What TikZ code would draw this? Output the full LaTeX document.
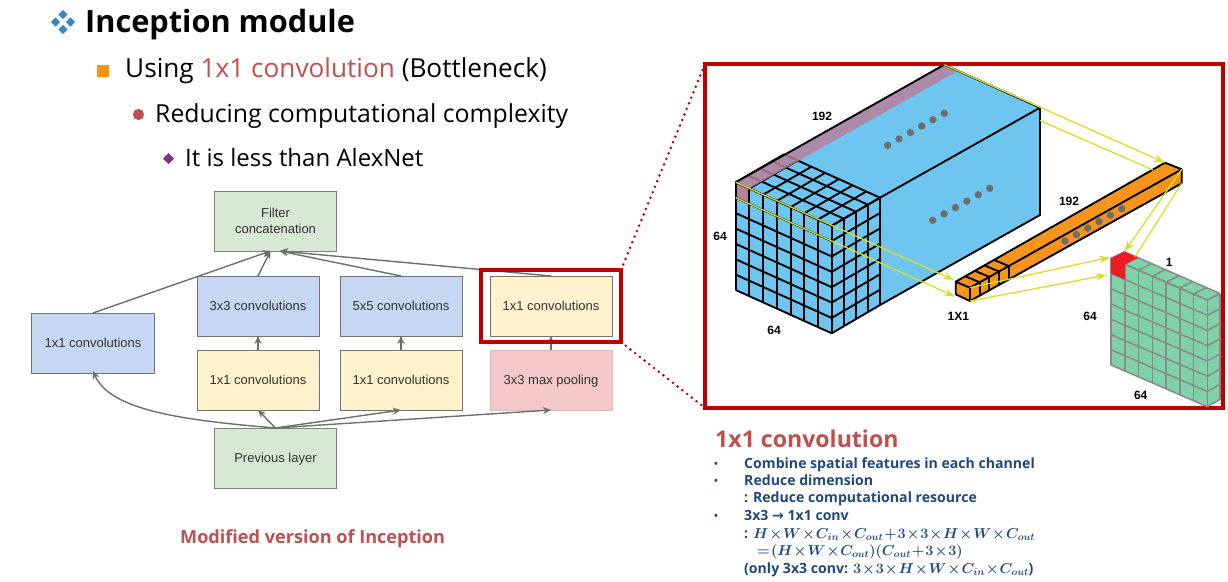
\documentclass[tikz,border=0pt]{standalone}
\usepackage[no-math]{fontspec}
\setmainfont{Open Sans}
\newfontfamily\labelfont{Liberation Sans}
\newfontfamily\arrowfont{DejaVu Sans}
\usetikzlibrary{calc,arrows.meta}
\definecolor{cubeblue}{HTML}{6EC6F0}
\definecolor{cubepink}{HTML}{B9809B}
\definecolor{barorange}{HTML}{F7941D}
\definecolor{wallgreen}{HTML}{7FD1A8}
\definecolor{wallgrey}{HTML}{8A8A8A}
\definecolor{wallred}{HTML}{ED1C24}
\definecolor{rayyellow}{HTML}{D4E02C}
\definecolor{framered}{HTML}{C00000}
\definecolor{slidered}{HTML}{C0504D}
\definecolor{slideblue}{HTML}{1F497D}
\definecolor{flowgrey}{HTML}{6E6E6E}
\definecolor{flowblue}{HTML}{C6D7F3}
\definecolor{flowcream}{HTML}{FFF2CC}
\definecolor{flowgreen}{HTML}{D7E8D3}
\definecolor{flowpink}{HTML}{F4C7C8}
%% griglia su una faccia: angoli in senso orario, colonne, righe
\newcommand{\facegrid}[6]{%
	\foreach \i in {0,...,#5} \draw ($(#1)!\i/#5!(#2)$) -- ($(#4)!\i/#5!(#3)$);
	\foreach \j in {0,...,#6} \draw ($(#1)!\j/#6!(#4)$) -- ($(#2)!\j/#6!(#3)$);
}
%% fila di sei punti grigi
\newcommand{\dotrow}[2]{%
	\foreach \k in {0,...,5} \fill[flowgrey] ($(#1)!\k/5!(#2)$) circle (3.7);
}
%% formula in neretto, spazi stretti
\newcommand{\boldformula}[1]{{\medmuskip=1mu\thickmuskip=1.5mu\boldmath$#1$}}
%% testo senza discendenti nel calcolo del centro
\newcommand{\nodepth}[1]{\raisebox{0pt}[\height][0pt]{#1}}
\begin{document}
\begin{tikzpicture}[
		x=1pt, y=-1pt, >=stealth,
		flowbox/.style={draw=#1, line width=1pt, outer sep=0pt, minimum width=122pt, minimum height=60pt, inner sep=0pt, align=center, font=\labelfont\fontsize{13}{15.5}\selectfont, text=black!80},
		bluebox/.style={flowbox=black!55, fill=flowblue},
		creambox/.style={flowbox=black!55, fill=flowcream},
		greenbox/.style={flowbox=black!50, fill=flowgreen},
		flow/.style={-{Stealth[length=8pt,width=7pt]}, flowgrey, line width=1.4pt},
		ray/.style={rayyellow, line width=1.3pt},
		rayarrow/.style={ray, -{Stealth[length=11pt,width=7.5pt]}},
		dims/.style={font=\labelfont\bfseries\fontsize{12}{14}\selectfont, inner sep=0pt},
		note/.style={anchor=base west, inner sep=0pt, text=slideblue, font=\bfseries\fontsize{14.1}{16}\selectfont},
		headline/.style={anchor=base west, inner sep=0pt, font=\fontsize{26.2}{30}\selectfont},
		zoomframe/.style={draw=framered, line width=3.2pt, outer sep=0pt, inner sep=0pt, anchor=north west},
		zoomdots/.style={framered, line width=2.8pt, line cap=round, dash pattern=on 0pt off 6pt}
	]
	\useasboundingbox (0,0) rectangle (1228,581);

	%% titoli
	\foreach \p in {(63,14.5),(55.5,22),(70.5,22),(63,29.5)}
		\fill[blue!45!cyan!60!gray] \p ++(-4.6,0) -- ++(4.6,-4.6) -- ++(4.6,4.6) -- ++(-4.6,4.6) -- cycle;
	\node[headline, font=\bfseries\fontsize{30.7}{36}\selectfont] (title) at (85,32) {Inception module};
	\fill[orange!85!yellow] (96.5,65) rectangle (109,77);
	\node[headline] (using) at (125,77) {Using \textcolor{slidered}{1x1 convolution} (Bottleneck)};
	\fill[slidered] (138.5,114.5) circle (5.6);
	\node[headline, font=\fontsize{24.8}{30}\selectfont] (reducing) at (155,122) {Reducing computational complexity};
	\fill[violet!60!gray] (168.5,153) -- (174,158.5) -- (168.5,164) -- (163,158.5) -- cycle;
	\node[headline, font=\fontsize{24}{28}\selectfont] (less) at (185,166) {It is less than AlexNet};

	%% modulo inception
	\node[greenbox, anchor=north west] (filter) at (214.5,191) {Filter\\[1pt]concatenation};
	\node[bluebox, anchor=north west] (three) at (197,276) {3x3 convolutions};
	\node[bluebox, anchor=north west] (five) at (340,276) {5x5 convolutions};
	\node[creambox, anchor=north west] (onepool) at (490,276) {1x1 convolutions};
	\node[creambox, anchor=north west] (onethree) at (197,350) {1x1 convolutions};
	\node[creambox, anchor=north west] (onefive) at (340,350) {1x1 convolutions};
	\node[flowbox=flowpink!80!gray, fill=flowpink, anchor=north west] (pool) at (490,350) {\nodepth{3x3 max pooling}};
	\node[bluebox, anchor=north west, minimum width=123pt] (oneleft) at (31.5,313) {1x1 convolutions};
	\node[greenbox, anchor=north west] (previous) at (214.5,428) {\nodepth{Previous layer}};

	\draw[flow] (oneleft.north) -- ([xshift=-5pt]filter.south);
	\draw[flow] (three.north) -- ([xshift=-5pt]filter.south);
	\draw[flow] (five.north) -- ([xshift=4pt]filter.south);
	\draw[flow] (onepool.north) -- ([xshift=4pt]filter.south);
	\draw[flow] (onethree.north) -- (three.south);
	\draw[flow] (onefive.north) -- (five.south);
	\draw[flow] (pool.north) -- (onepool.south);
	\draw[flow] (previous.north) .. controls (180,420) and (110,410) .. ([yshift=2pt]oneleft.south);
	\draw[flow] (previous.north) -- (onethree.south);
	\draw[flow] (previous.north) -- (onefive.south);
	\draw[flow] (previous.north) -- (pool.south);

	\node[anchor=base west, inner sep=0pt, text=slidered, font=\bfseries\fontsize{18.1}{22}\selectfont] (caption) at (180,543) {Modified version of Inception};

	%% riquadro rosso e linee punteggiate
	\node[zoomframe, minimum width=140pt, minimum height=72pt] (pick) at (481,270) {};
	\node[zoomframe, minimum width=518pt, minimum height=344pt] (zoombox) at (705,64) {};
	\draw[zoomdots] (pick.north east) -- (zoombox.north west);
	\draw[zoomdots] (pick.south east) -- (zoombox.south west);

	%% blocco 64 x 64 x 192
	\coordinate (A) at (735.7,182.3);
	\coordinate (B) at (831.7,225.7);
	\coordinate (C) at (880,197.7);
	\coordinate (D) at (784,154.3);
	\coordinate (F) at (944.3,64.7);
	\coordinate (E) at (1040,107.7);
	\coordinate (G) at (1040,215);
	\coordinate (Ab) at (735.7,290);
	\coordinate (Bb) at (831.7,333.3);
	\coordinate (Cb) at (880,305);
	\fill[cubeblue] (A) -- (F) -- (E) -- (G) -- (Bb) -- (Ab) -- cycle;
	\fill[cubepink] (A) -- ($(A)!1/7!(B)$) -- ++(0,15.4) -- ($(A)!1/7!(Ab)$) -- cycle;
	\begin{scope}[line width=1.9pt, black]
		\facegrid{A}{B}{Bb}{Ab}{7}{7}
		\facegrid{B}{C}{Cb}{Bb}{4}{7}
		\facegrid{A}{B}{C}{D}{7}{4}
	\end{scope}
	\fill[cubepink, opacity=0.85] (A) -- ($(A)!1/7!(B)$) -- ($(F)!1/7!(E)$) -- (F) -- cycle;
	\draw[black, line width=1.9pt, line join=round] (A) -- (F) -- (E) -- (G) -- (Cb);
	\draw[black, line width=1.9pt] (C) -- (E);
	\dotrow{887.7,145.3}{944.3,113.3}
	\dotrow{932.7,220.3}{989.7,188.3}

	%% barra 1 x 1 x 192
	\coordinate (P) at (955.7,281.7);
	\coordinate (Q) at (970,287.7);
	\coordinate (R) at (1181.7,169.3);
	\coordinate (S) at (1165,162.7);
	\coordinate (Pb) at (955.7,294.3);
	\coordinate (Qb) at (970,301);
	\coordinate (Rb) at (1181.7,183.3);
	\fill[barorange] (P) -- (S) -- (R) -- (Rb) -- (Qb) -- (Pb) -- cycle;
	\begin{scope}[black, line width=1.9pt, line join=round]
		\draw (P) -- (S) -- (R) -- (Rb) -- (Qb) -- (Pb) -- cycle;
		\draw (P) -- (Q) -- (R);
		\draw (Q) -- (Qb);
		\foreach \f in {0.0457,0.0914,0.1371,0.1828} {
			\draw ($(Q)!\f!(R)$) -- ($(Qb)!\f!(Rb)$);
			\draw ($(Q)!\f!(R)$) -- ($(P)!\f!(S)$);
		}
	\end{scope}
	\dotrow{1065,241}{1121.7,208.7}

	%% parete 64 x 64 x 1
	\coordinate (W) at (1111,258.3);
	\coordinate (X) at (1207.3,300);
	\coordinate (Y) at (1207.3,406.7);
	\coordinate (Z) at (1111,365);
	\coordinate (Wt) at (1124.5,251.7);
	\coordinate (Xt) at (1220,293.5);
	\coordinate (Yt) at (1220,399.5);
	\fill[wallgreen] (W) -- (Wt) -- (Xt) -- (Yt) -- (Y) -- (Z) -- cycle;
	\begin{scope}[wallgrey, line width=1.5pt]
		\facegrid{W}{X}{Y}{Z}{7}{7}
		\facegrid{X}{Xt}{Yt}{Y}{1}{7}
		\facegrid{W}{X}{Xt}{Wt}{7}{1}
	\end{scope}
	\fill[wallred] (W) -- (Wt) -- ($(Wt)!1/7!(Xt)$) -- ($(W)!1/7!(X)$) -- cycle;
	\fill[wallred] (W) -- ($(W)!1/7!(X)$) -- ++(0,15.2) -- ($(W)!1/7!(Z)$) -- cycle;

	%% raggi gialli
	\draw[rayarrow] (A) -- (954,280);
	\draw[rayarrow] ($(A)!1/7!(Ab)$) -- (955,296.5);
	\draw[rayarrow] (F) -- (S);
	\draw[ray] (1040,120.5) -- (1153,170);
	\draw[rayarrow] (R) -- (Wt);
	\draw[ray] (Rb) -- (1135,256.7);
	\draw[rayarrow] (Q) -- (1110,257.3);
	\draw[rayarrow] (Qb) -- (1106.7,275);

	%% quote
	\node[dims] (deep) at (822,116.7) {192};
	\node[dims] (high) at (720,236.7) {64};
	\node[dims] (wide) at (774,330) {64};
	\node[dims] (kernel) at (958.3,316) {1X1};
	\node[dims] (barlen) at (1069,201) {192};
	\node[dims] (wallhigh) at (1090,316) {64};
	\node[dims] (wallthin) at (1169.3,262.3) {1};
	\node[dims] (wallwide) at (1140.7,395) {64};

	%% testo a destra
	\node[anchor=base west, inner sep=0pt, text=slidered, font=\bfseries\fontsize{23.1}{26}\selectfont] (onebyone) at (715,447.5) {1x1 convolution};
	\node[note, font=\bfseries\fontsize{10}{12}\selectfont] (bulleta) at (714,467) {•};
	\node[note] (combine) at (744,468) {Combine spatial features in each channel};
	\node[note, font=\bfseries\fontsize{10}{12}\selectfont] (bulletb) at (714,484) {•};
	\node[note] (reduce) at (744,485) {Reduce dimension};
	\node[note] (resource) at (744,502.5) {: Reduce computational resource};
	\node[note, font=\bfseries\fontsize{10}{12}\selectfont] (bulletc) at (714,519) {•};
	\node[note] (conv) at (744,520) {3x3 {\arrowfont →} 1x1 conv};
	\node[note] (formula) at (744,538.5) {: \boldformula{H\times W\times C_{in}\times C_{out}+3\times3\times H\times W\times C_{out}}};
	\node[note] (factored) at (757,555) {\boldformula{=(H\times W\times C_{out})(C_{out}+3\times3)}};
	\node[note] (only) at (744,573) {(only 3x3 conv: \boldformula{3\times3\times H\times W\times C_{in}\times C_{out}})};
\end{tikzpicture}
\end{document}
